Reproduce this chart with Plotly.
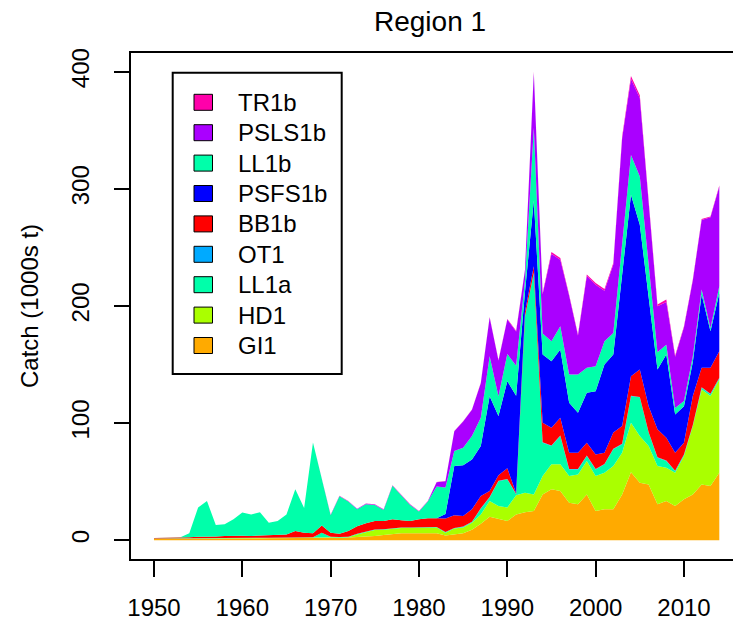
import plotly.graph_objects as go

years = list(range(1950, 2015))

GI1 = [1.0, 1.0, 1.0, 1.0, 1.2, 1.3, 1.3, 1.4, 1.5, 1.5,
       1.5, 1.5, 1.6, 1.7, 1.8, 2.0, 2.2, 2.0, 2.0, 2.2,
       2.2, 2.0, 2.3, 2.5, 3.0, 3.7, 4.5, 5.5, 6.0, 6.0,
       6.0, 6.0, 6.0, 4.0, 5.0, 6.0, 9.0, 14.0, 20.0, 18.0,
       16.5, 22.0, 24.0, 25.0, 39.0, 43.5, 42.0, 32.0, 30.7, 39.0,
       25.0, 26.4, 26.4, 39.0, 58.0, 49.0, 47.7, 30.7, 33.5, 29.3,
       35.0, 39.0, 47.7, 46.3, 57.7]
HD1 = [0.3] * 20 + \
      [0.3, 0.3, 0.3, 2.5, 4.0, 5.0, 4.5, 4.5, 4.5, 4.5,
       4.5, 4.5, 4.8, 2.5, 5.0, 4.8, 6.0, 8.0, 13.5, 11.3,
       11.5, 16.5, 16.6, 14.0, 15.8, 21.3, 22.8, 22.8, 25.5, 28.6,
       29.8, 31.3, 37.0, 35.8, 42.4, 40.0, 32.8, 32.7, 28.5, 28.4,
       36.9, 58.5, 81.1, 76.8, 79.6]
LL1a = [0.2] * 19 + [4.0] + [0.5] * 10 + \
       [0.5, 0.5, 0.5, 0.5, 0.5, 0.5, 0.5, 5.0, 3.0, 21.0,
        24.0, 0.5, 150.0, 189.0, 28.5, 15.7, 24.2, 5.7, 4.3, 4.3,
        5.7, 7.1, 14.3, 7.2, 22.6, 33.0, 11.4, 7.1, 5.6, 1.3,
        1.0, 0.5, 1.5, 1.5, 1.0]
OT1 = [0.0] * 35 + [0.4] * 30
BB1b = [0.5, 0.5, 0.5, 0.7, 0.8, 1.2, 1.2, 1.4, 1.7, 2.0,
        1.8, 1.7, 1.9, 2.1, 2.2, 2.5, 5.3, 4.0, 3.5, 6.0,
        3.5, 2.7, 4.9, 6.5, 7.0, 7.3, 7.0, 7.5, 6.0, 5.5,
        7.0, 7.8, 7.5, 11.5, 10.8, 9.0, 10.5, 10.4, 5.1, 4.8,
        9.1, 0.8, 4.0, 5.6, 16.6, 15.1, 15.2, 13.9, 13.9, 11.0,
        12.4, 9.6, 13.8, 15.1, 16.6, 23.4, 22.2, 23.8, 19.6, 15.4,
        10.0, 24.7, 16.6, 22.2, 22.6]
PSFS1b = [0.0] * 33 + \
         [4.0, 42.0, 43.3, 42.6, 42.6, 81.0, 50.5,
          74.3, 83.2, 17.0, 56.0, 58.3, 56.9, 58.2, 42.6, 34.0, 42.6,
          54.0, 75.2, 66.7, 129.3, 155.0, 123.6, 93.3, 51.1, 71.0, 32.6,
          31.2, 29.0, 62.5, 31.3, 49.6]
LL1b = [0.0, 0.0, 0.1, 0.3, 3.5, 25.0, 30.5, 9.7, 9.9, 14.0,
        19.8, 18.3, 20.0, 10.7, 12.0, 17.0, 35.5, 21.0, 77.5, 41.0,
        14.8, 32.0, 25.0, 14.5, 16.3, 13.7, 9.4, 28.5, 21.5, 13.7,
        6.5, 14.2, 27.2, 22.5, 13.0, 15.0, 20.0, 24.2, 34.0, 17.0,
        23.2, 25.6, 10.0, 62.0, 17.9, 17.0, 19.9, 24.1, 32.7, 21.3,
        21.3, 19.9, 18.4, 28.2, 34.0, 41.2, 27.8, 14.7, 8.4, 5.6,
        4.5, 5.0, 4.3, 2.8, 6.0]
PSLS1b = [0.0] * 20 + [0.3] * 12 + \
         [3.5, 5.3, 16.7, 22.4, 22.4, 29.4, 33.2, 30.5,
          29.5, 29.3, 8.5, 47.0, 33.5, 74.6, 56.8, 67.2, 33.3, 78.4,
          69.6, 43.2, 58.5, 88.2, 64.9, 66.9, 52.9, 39.2, 36.5, 43.7,
          62.9, 64.7, 59.4, 94.4, 85.2]
TR1b = [0.0] * 20 + [0.2] * 12 + \
       [0.2, 0.3, 0.3, 0.3, 0.3, 0.4, 0.5, 0.5,
        0.5, 0.5, 0.5, 1.0, 1.0, 1.5, 1.5, 1.0, 0.8, 1.2,
        1.5, 1.5, 1.2, 1.5, 2.5, 2.5, 1.5, 1.5, 2.0, 1.0,
        0.8, 0.8, 0.8, 0.8, 0.8]

names = ["GI1", "HD1", "LL1a", "OT1", "BB1b", "PSFS1b", "LL1b", "PSLS1b", "TR1b"]
values = [GI1, HD1, LL1a, OT1, BB1b, PSFS1b, LL1b, PSLS1b, TR1b]
colors = ["#FFAA00", "#AAFF00", "#00FFAA", "#00AAFF", "#FF0000",
          "#0000FF", "#00FFAA", "#AA00FF", "#FF00AA"]

x_ticks = [1950, 1960, 1970, 1980, 1990, 2000, 2010]
y_ticks = [0, 100, 200, 300, 400]

W, H = 733, 622
L, R, T, B = 131, 0, 53, 63
FONT = "Liberation Sans, Arial, Helvetica, sans-serif"


def px(xp):
    return (xp - L) / (W - L - R)


def py(yp):
    return (H - B - yp) / (H - T - B)


fig = go.Figure()
for name, vals, col in zip(names, values, colors):
    assert len(vals) == len(years), name
    fig.add_trace(go.Scatter(
        x=years, y=vals, name=name, mode="lines", stackgroup="one",
        line=dict(width=0, color=col), fillcolor=col,
        showlegend=False, hoverinfo="skip"))

shapes = []
annotations = []

# legend box
shapes.append(dict(type="rect", xref="paper", yref="paper",
                   x0=px(172.7), x1=px(341.7), y0=py(374), y1=py(72.7),
                   line=dict(color="black", width=2), fillcolor="white",
                   layer="above"))
for i, idx in enumerate(range(len(names) - 1, -1, -1)):
    cy = 102.3 + i * 30.4
    shapes.append(dict(type="rect", xref="paper", yref="paper",
                       x0=px(194), x1=px(212.5), y0=py(cy + 8), y1=py(cy - 8),
                       line=dict(color="black", width=1), fillcolor=colors[idx],
                       layer="above"))
    annotations.append(dict(text=names[idx], xref="paper", yref="paper",
                            x=px(235.7), y=py(cy), xanchor="left", yanchor="middle",
                            showarrow=False, font=dict(size=24, color="black", family=FONT)))

annotations.append(dict(text="Region 1", xref="paper", yref="paper",
                        x=px(430), y=py(22), xanchor="center", yanchor="middle",
                        showarrow=False, font=dict(size=28, color="black", family=FONT)))
annotations.append(dict(text="Catch (1000s t)", xref="paper", yref="paper",
                        x=px(29), y=py(306), xanchor="center", yanchor="middle",
                        textangle=-90, showarrow=False,
                        font=dict(size=24, color="black", family=FONT)))

fig.update_layout(
    width=W, height=H,
    margin=dict(l=L, r=R, t=T, b=B, pad=0),
    paper_bgcolor="white", plot_bgcolor="white",
    font=dict(family=FONT, size=24, color="black"),
    shapes=shapes, annotations=annotations,
    xaxis=dict(range=[1947.4, 2015.55], tickmode="array", tickvals=x_ticks,
               ticks="outside", ticklen=16, tickwidth=2, tickcolor="black",
               showline=True, linecolor="black", linewidth=2, mirror=True,
               showgrid=False, zeroline=False, ticklabelstandoff=10,
               tickfont=dict(size=24, family=FONT, color="black")),
    yaxis=dict(range=[-16, 416], tickmode="array", tickvals=y_ticks,
               tickangle=-90, ticks="outside", ticklen=15, tickwidth=2,
               tickcolor="black", showline=True, linecolor="black", linewidth=2,
               mirror=False, showgrid=False, zeroline=False, ticklabelstandoff=15,
               tickfont=dict(size=24, family=FONT, color="black")),
)

fig.write_html("out.html")
